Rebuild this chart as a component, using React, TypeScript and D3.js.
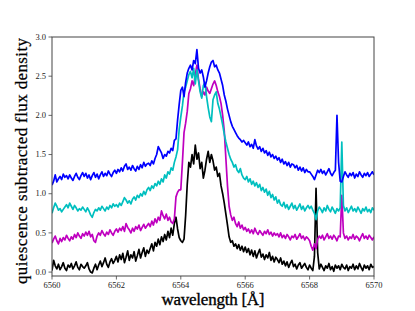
import * as d3 from 'd3';

// spectra sampled every 0.05 Å from 6560 Å (20 values per row = 1 Å)
const WL_START = 6560;
const WL_STEP = 0.05;

const xTicks = [6560, 6562, 6564, 6566, 6568, 6570];
const yTicks = [0, 0.5, 1.0, 1.5, 2.0, 2.5, 3.0];

const black = [
  0.02, 0.15, 0.08, 0.04, 0.10, 0.03, 0.07, 0.12, 0.05, 0.02, 0.09, 0.06, 0.11, 0.04, 0.08, 0.13, 0.06, 0.03, 0.10, 0.07,
  0.05, 0.08, 0.12, 0.04, 0.00, -0.01, 0.05, 0.10, 0.03, 0.09, 0.14, 0.07, 0.12, 0.18, 0.10, 0.06, 0.13, 0.17, 0.11, 0.15,
  0.20, 0.13, 0.22, 0.16, 0.24, 0.12, 0.19, 0.27, 0.15, 0.22, 0.18, 0.26, 0.14, 0.21, 0.29, 0.18, 0.25, 0.31, 0.20, 0.28,
  0.24, 0.30, 0.36, 0.27, 0.38, 0.33, 0.42, 0.35, 0.45, 0.39, 0.48, 0.41, 0.52, 0.44, 0.56, 0.47, 0.62, 0.70, 0.55, 0.44,
  0.40, 0.38, 0.42, 0.72, 1.12, 1.40, 1.34, 1.50, 1.38, 1.62, 1.44, 1.52, 1.32, 1.40, 1.20, 1.30, 1.44, 1.54, 1.40, 1.50,
  1.42, 1.30, 1.34, 1.22, 1.26, 1.10, 1.00, 0.88, 0.74, 0.60, 0.45, 0.38, 0.40, 0.33, 0.36, 0.30, 0.35, 0.28, 0.33, 0.26,
  0.32, 0.25, 0.30, 0.22, 0.28, 0.20, 0.27, 0.18, 0.24, 0.29, 0.19, 0.23, 0.16, 0.22, 0.18, 0.25, 0.15, 0.20, 0.13, 0.19,
  0.16, 0.12, 0.18, 0.10, 0.14, 0.08, 0.13, 0.06, 0.11, 0.15, 0.07, 0.10, 0.04, 0.09, 0.12, 0.05, 0.08, 0.11, 0.06, 0.03,
  0.09, 0.05, 0.02, 0.20, 1.07, 0.25, 0.04, 0.10, 0.06, 0.02, 0.08, 0.05, 0.11, 0.03, 0.07, 0.01, 0.09, 0.05, 0.08, 0.03,
  0.10, 0.06, 0.04, 0.09, 0.02, 0.07, 0.05, 0.10, 0.03, 0.08, 0.04, 0.11, 0.06, 0.02, 0.09, 0.05, 0.08, 0.03, 0.10, 0.06,
  0.07,
];

const magenta = [
  0.37, 0.42, 0.46, 0.40, 0.36, 0.43, 0.39, 0.44, 0.41, 0.47, 0.43, 0.40, 0.45, 0.42, 0.48, 0.44, 0.50, 0.46, 0.43, 0.49,
  0.46, 0.51, 0.47, 0.52, 0.45, 0.48, 0.40, 0.38, 0.46, 0.50, 0.47, 0.53, 0.49, 0.46, 0.51, 0.48, 0.54, 0.50, 0.47, 0.52,
  0.55, 0.51, 0.56, 0.53, 0.58, 0.52, 0.62, 0.57, 0.54, 0.50, 0.56, 0.52, 0.58, 0.55, 0.60, 0.53, 0.57, 0.61, 0.56, 0.59,
  0.62, 0.58, 0.65, 0.60, 0.68, 0.63, 0.70, 0.66, 0.78, 0.72, 0.68, 0.74, 0.66, 0.70, 0.64, 0.62, 0.68, 0.96, 1.02, 1.05,
  1.05, 1.40, 1.78, 1.90, 2.05, 2.28, 2.34, 2.44, 2.38, 2.52, 2.64, 2.46, 2.34, 2.24, 2.30, 2.26, 2.36, 2.31, 2.28, 2.34,
  2.40, 2.44, 2.38, 2.30, 2.24, 2.15, 2.00, 1.80, 1.45, 1.10, 0.84, 0.73, 0.66, 0.70, 0.62, 0.58, 0.64, 0.56, 0.60, 0.54,
  0.57, 0.52, 0.55, 0.50, 0.54, 0.49, 0.56, 0.51, 0.48, 0.53, 0.50, 0.47, 0.52, 0.49, 0.54, 0.48, 0.51, 0.46, 0.50, 0.47,
  0.49, 0.45, 0.50, 0.44, 0.47, 0.43, 0.48, 0.45, 0.41, 0.46, 0.44, 0.48, 0.42, 0.45, 0.49, 0.43, 0.46, 0.41, 0.45, 0.43,
  0.40, 0.33, 0.28, 0.36, 0.30, 0.42, 0.46, 0.43, 0.47, 0.41, 0.45, 0.49, 0.43, 0.46, 0.42, 0.47, 0.44, 0.40, 0.46, 0.45,
  0.98, 0.50, 0.43, 0.46, 0.41, 0.45, 0.43, 0.48, 0.42, 0.46, 0.44, 0.40, 0.45, 0.49, 0.43, 0.46, 0.42, 0.47, 0.44, 0.41,
  0.45,
];

const cyan = [
  0.75, 0.82, 0.88, 0.84, 0.79, 0.81, 0.77, 0.80, 0.83, 0.86, 0.82, 0.88, 0.84, 0.80, 0.85, 0.82, 0.78, 0.81, 0.79, 0.83,
  0.80, 0.77, 0.82, 0.78, 0.73, 0.70, 0.76, 0.80, 0.78, 0.82, 0.79, 0.84, 0.81, 0.78, 0.83, 0.80, 0.85, 0.82, 0.87, 0.84,
  0.86, 0.83, 0.88, 0.85, 0.90, 0.95, 0.92, 0.88, 0.91, 0.87, 0.93, 0.96, 0.92, 0.98, 0.95, 1.00, 0.97, 1.03, 0.99, 1.05,
  1.08, 1.04, 1.10, 1.07, 1.13, 1.10, 1.16, 1.12, 1.19, 1.15, 1.24, 1.20, 1.28, 1.25, 1.33, 1.30, 1.40, 1.47, 1.56, 1.82,
  1.98, 2.12, 2.30, 2.36, 2.44, 2.52, 2.56, 2.48, 2.60, 2.40, 2.58, 2.44, 2.30, 2.22, 2.38, 2.42, 2.24, 2.10, 1.98, 1.92,
  2.20, 2.26, 2.30, 2.15, 2.08, 1.98, 1.88, 1.76, 1.66, 1.58, 1.50, 1.44, 1.40, 1.34, 1.37, 1.30, 1.27, 1.32, 1.24, 1.20,
  1.18, 1.22, 1.15, 1.19, 1.12, 1.16, 1.10, 1.14, 1.08, 1.12, 1.04, 1.08, 1.02, 1.06, 0.98, 1.03, 0.95, 0.99, 0.92, 0.96,
  0.88, 0.92, 0.86, 0.84, 0.89, 0.82, 0.86, 0.80, 0.84, 0.88, 0.81, 0.85, 0.79, 0.83, 0.87, 0.80, 0.84, 0.78, 0.82, 0.85,
  0.81, 0.84, 0.79, 0.75, 0.67, 0.78, 0.83, 0.80, 0.76, 0.82, 0.78, 0.85, 0.80, 0.77, 0.83, 0.79, 0.75, 0.81, 0.78, 0.82,
  1.66, 0.85, 0.78, 0.82, 0.76, 0.80, 0.84, 0.78, 0.81, 0.77, 0.83, 0.79, 0.75, 0.81, 0.78, 0.83, 0.77, 0.80, 0.76, 0.82,
  0.79,
];

const blue = [
  1.11, 1.16, 1.24, 1.15, 1.19, 1.22, 1.18, 1.25, 1.21, 1.23, 1.19, 1.24, 1.20, 1.17, 1.22, 1.26, 1.21, 1.18, 1.23, 1.27,
  1.22, 1.26, 1.20, 1.24, 1.18, 1.23, 1.27, 1.21, 1.25, 1.19, 1.24, 1.28, 1.22, 1.26, 1.23, 1.29, 1.25, 1.22, 1.27, 1.30,
  1.26, 1.31, 1.28, 1.33, 1.29, 1.35, 1.38, 1.31, 1.34, 1.30, 1.36, 1.32, 1.29, 1.35, 1.31, 1.37, 1.33, 1.40, 1.35, 1.38,
  1.39, 1.36, 1.42, 1.38, 1.45, 1.50, 1.60, 1.56, 1.52, 1.45, 1.50, 1.48, 1.54, 1.52, 1.58, 1.55, 1.68, 1.70, 1.94, 2.14,
  2.32, 2.36, 2.24, 2.42, 2.54, 2.60, 2.64, 2.58, 2.70, 2.66, 2.84, 2.60, 2.54, 2.58, 2.49, 2.36, 2.44, 2.54, 2.62, 2.68,
  2.70, 2.62, 2.64, 2.58, 2.54, 2.46, 2.38, 2.26, 2.18, 2.08, 2.00, 1.92, 1.86, 1.82, 1.78, 1.74, 1.71, 1.69, 1.66, 1.68,
  1.65, 1.62, 1.66, 1.60, 1.63, 1.58, 1.69, 1.61, 1.57, 1.60, 1.54, 1.58, 1.52, 1.55, 1.49, 1.53, 1.47, 1.50, 1.45, 1.48,
  1.43, 1.46, 1.40, 1.44, 1.38, 1.41, 1.36, 1.40, 1.34, 1.38, 1.37, 1.33, 1.36, 1.30, 1.34, 1.29, 1.33, 1.27, 1.31, 1.28,
  1.28, 1.25, 1.22, 1.18, 1.24, 1.30, 1.27, 1.31, 1.26, 1.29, 1.24, 1.28, 1.32, 1.26, 1.23, 1.27, 1.30, 2.00, 1.40, 1.16,
  1.15, 1.22, 1.28, 1.24, 1.21, 1.26, 1.23, 1.27, 1.20, 1.25, 1.22, 1.28, 1.24, 1.21, 1.26, 1.23, 1.27, 1.22, 1.25, 1.28,
  1.24,
];

const series = [
  { key: 'k', values: black, color: '#000000' },
  { key: 'm', values: magenta, color: '#bf00bf' },
  { key: 'c', values: cyan, color: '#00bfbf' },
  { key: 'b', values: blue, color: '#0000ff' },
];

const SERIF = '"Liberation Serif", "DejaVu Serif", serif';

export default function App() {
  const width = 415;
  const height = 311;
  const margin = { left: 52, right: 41, top: 37, bottom: 35 };

  const x = d3
    .scaleLinear()
    .domain([6560, 6570])
    .range([margin.left, width - margin.right]);
  const y = d3
    .scaleLinear()
    .domain([-0.05, 3.0])
    .range([height - margin.bottom, margin.top]);

  const line = d3
    .line<number>()
    .x((_, i) => x(WL_START + i * WL_STEP))
    .y((d) => y(d));

  const x0 = margin.left;
  const x1 = width - margin.right;
  const y0 = height - margin.bottom;
  const y1 = margin.top;
  const fmt = d3.format('.1f');

  return (
    <svg
      width={width}
      height={height}
      style={{ position: 'absolute', left: 0, top: 0, background: '#fff' }}
    >
      <defs>
        <clipPath id="plot">
          <rect x={x0} y={y1} width={x1 - x0} height={y0 - y1} />
        </clipPath>
      </defs>
      <g clipPath="url(#plot)">
        {series.map((s) => (
          <path
            key={s.key}
            d={line(s.values) ?? ''}
            fill="none"
            stroke={s.color}
            strokeWidth={1.7}
            strokeLinejoin="round"
          />
        ))}
      </g>
      <rect x={x0} y={y1} width={x1 - x0} height={y0 - y1} fill="none" stroke="#444" strokeWidth={1} />
      {xTicks.map((t) => (
        <g key={t} transform={`translate(${x(t)},${y0})`}>
          <line y2={3.5} stroke="#444" strokeWidth={0.8} />
          <text y={11.5} textAnchor="middle" fontFamily={SERIF} fontSize={8.5} fill="#222">
            {t}
          </text>
        </g>
      ))}
      {yTicks.map((t) => (
        <g key={t} transform={`translate(${x0},${y(t)})`}>
          <line x2={-3.5} stroke="#444" strokeWidth={0.8} />
          <text x={-6} dy="0.32em" textAnchor="end" fontFamily={SERIF} fontSize={8.5} fill="#222">
            {fmt(t)}
          </text>
        </g>
      ))}
      <text
        x={(x0 + x1) / 2}
        y={305}
        textAnchor="middle"
        fontFamily={SERIF}
        fontSize={17}
        textLength={103}
        lengthAdjust="spacing"
        fill="#000"
        stroke="#000"
        strokeWidth={0.35}
      >
        wavelength [Å]
      </text>
      <text
        transform={`translate(27,${161}) rotate(-90)`}
        textAnchor="middle"
        fontFamily={SERIF}
        fontSize={17}
        textLength={246}
        lengthAdjust="spacing"
        fill="#000"
        stroke="#000"
        strokeWidth={0.25}
      >
        quiescence subtracted flux density
      </text>
    </svg>
  );
}
